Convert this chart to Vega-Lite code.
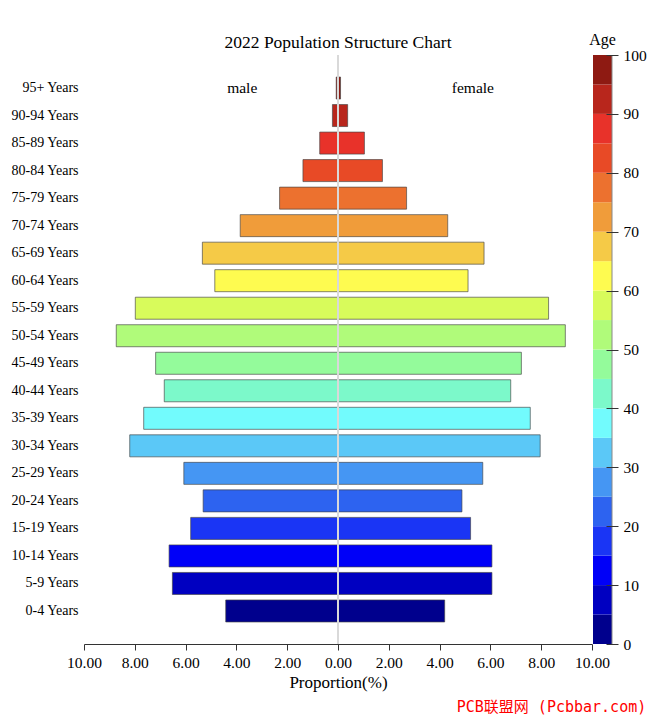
{
  "$schema": "https://vega.github.io/schema/vega-lite/v6.json",
  "padding": {"left": 10, "top": 32, "right": 4, "bottom": 4},
  "spacing": 1,
  "bounds": "flush",
  "config": {"view": {"stroke": null}, "font": "Liberation Serif"},
  "title": {"text": "PCB联盟网 (Pcbbar.com)", "orient": "bottom", "anchor": "end", "color": "#ff0000", "fontSize": 15, "font": "DejaVu Sans Mono, Noto Sans CJK SC", "fontWeight": "normal", "offset": 9},
  "datasets": {
    "pop": [
      {"group": "0-4 Years", "sex": "male", "value": -4.42},
      {"group": "5-9 Years", "sex": "male", "value": -6.52},
      {"group": "10-14 Years", "sex": "male", "value": -6.65},
      {"group": "15-19 Years", "sex": "male", "value": -5.80},
      {"group": "20-24 Years", "sex": "male", "value": -5.31},
      {"group": "25-29 Years", "sex": "male", "value": -6.07},
      {"group": "30-34 Years", "sex": "male", "value": -8.20},
      {"group": "35-39 Years", "sex": "male", "value": -7.65},
      {"group": "40-44 Years", "sex": "male", "value": -6.84},
      {"group": "45-49 Years", "sex": "male", "value": -7.18},
      {"group": "50-54 Years", "sex": "male", "value": -8.73},
      {"group": "55-59 Years", "sex": "male", "value": -7.98},
      {"group": "60-64 Years", "sex": "male", "value": -4.85},
      {"group": "65-69 Years", "sex": "male", "value": -5.34},
      {"group": "70-74 Years", "sex": "male", "value": -3.85},
      {"group": "75-79 Years", "sex": "male", "value": -2.30},
      {"group": "80-84 Years", "sex": "male", "value": -1.38},
      {"group": "85-89 Years", "sex": "male", "value": -0.72},
      {"group": "90-94 Years", "sex": "male", "value": -0.22},
      {"group": "95+ Years", "sex": "male", "value": -0.07},
      {"group": "0-4 Years", "sex": "female", "value": 4.20},
      {"group": "5-9 Years", "sex": "female", "value": 6.06},
      {"group": "10-14 Years", "sex": "female", "value": 6.06},
      {"group": "15-19 Years", "sex": "female", "value": 5.22},
      {"group": "20-24 Years", "sex": "female", "value": 4.88},
      {"group": "25-29 Years", "sex": "female", "value": 5.70},
      {"group": "30-34 Years", "sex": "female", "value": 7.96},
      {"group": "35-39 Years", "sex": "female", "value": 7.57},
      {"group": "40-44 Years", "sex": "female", "value": 6.80},
      {"group": "45-49 Years", "sex": "female", "value": 7.22},
      {"group": "50-54 Years", "sex": "female", "value": 8.95},
      {"group": "55-59 Years", "sex": "female", "value": 8.29},
      {"group": "60-64 Years", "sex": "female", "value": 5.12},
      {"group": "65-69 Years", "sex": "female", "value": 5.75},
      {"group": "70-74 Years", "sex": "female", "value": 4.32},
      {"group": "75-79 Years", "sex": "female", "value": 2.70},
      {"group": "80-84 Years", "sex": "female", "value": 1.75},
      {"group": "85-89 Years", "sex": "female", "value": 1.04},
      {"group": "90-94 Years", "sex": "female", "value": 0.38},
      {"group": "95+ Years", "sex": "female", "value": 0.10}
    ],
    "bands": [
      {"group": "0-4 Years", "lo": 0, "hi": 5},
      {"group": "5-9 Years", "lo": 5, "hi": 10},
      {"group": "10-14 Years", "lo": 10, "hi": 15},
      {"group": "15-19 Years", "lo": 15, "hi": 20},
      {"group": "20-24 Years", "lo": 20, "hi": 25},
      {"group": "25-29 Years", "lo": 25, "hi": 30},
      {"group": "30-34 Years", "lo": 30, "hi": 35},
      {"group": "35-39 Years", "lo": 35, "hi": 40},
      {"group": "40-44 Years", "lo": 40, "hi": 45},
      {"group": "45-49 Years", "lo": 45, "hi": 50},
      {"group": "50-54 Years", "lo": 50, "hi": 55},
      {"group": "55-59 Years", "lo": 55, "hi": 60},
      {"group": "60-64 Years", "lo": 60, "hi": 65},
      {"group": "65-69 Years", "lo": 65, "hi": 70},
      {"group": "70-74 Years", "lo": 70, "hi": 75},
      {"group": "75-79 Years", "lo": 75, "hi": 80},
      {"group": "80-84 Years", "lo": 80, "hi": 85},
      {"group": "85-89 Years", "lo": 85, "hi": 90},
      {"group": "90-94 Years", "lo": 90, "hi": 95},
      {"group": "95+ Years", "lo": 95, "hi": 100}
    ],
    "single": [{"one": 1}]
  },
  "hconcat": [
    {
      "width": 508,
      "height": 589,
      "title": {"text": "2022 Population Structure Chart", "fontSize": 17.5, "fontWeight": "normal", "anchor": "middle", "offset": 3, "color": "#000"},
      "layer": [
        {
          "data": {"name": "pop"},
          "mark": {"type": "bar", "stroke": "#444", "strokeOpacity": 0.65, "strokeWidth": 1},
          "encoding": {
            "y": {
              "field": "group", "type": "nominal",
              "sort": ["95+ Years", "90-94 Years", "85-89 Years", "80-84 Years", "75-79 Years", "70-74 Years", "65-69 Years", "60-64 Years", "55-59 Years", "50-54 Years", "45-49 Years", "40-44 Years", "35-39 Years", "30-34 Years", "25-29 Years", "20-24 Years", "15-19 Years", "10-14 Years", "5-9 Years", "0-4 Years"],
              "scale": {"paddingInner": 0.2, "paddingOuter": 0.8},
              "axis": {"title": null, "domain": false, "ticks": false, "labelFontSize": 14, "labelPadding": 6, "labelColor": "#000", "labelFont": "Liberation Serif"}
            },
            "x": {
              "field": "value", "type": "quantitative",
              "scale": {"domain": [-10, 10], "nice": false},
              "axis": {"values": [-10, -8, -6, -4, -2, 0, 2, 4, 6, 8, 10], "labelExpr": "format(abs(datum.value), '.2f')", "labelFlush": false, "labelOverlap": false, "grid": false, "title": "Proportion(%)", "titleFontSize": 17, "titleFontWeight": "normal", "titleColor": "#000", "titlePadding": 4, "labelFontSize": 15.5, "labelColor": "#000", "labelPadding": 5, "tickSize": 6, "domainColor": "#333", "tickColor": "#333", "labelFont": "Liberation Serif", "titleFont": "Liberation Serif"}
            },
            "color": {
              "field": "group", "type": "nominal",
              "scale": {
                "domain": ["0-4 Years", "5-9 Years", "10-14 Years", "15-19 Years", "20-24 Years", "25-29 Years", "30-34 Years", "35-39 Years", "40-44 Years", "45-49 Years", "50-54 Years", "55-59 Years", "60-64 Years", "65-69 Years", "70-74 Years", "75-79 Years", "80-84 Years", "85-89 Years", "90-94 Years", "95+ Years"],
                "range": ["#00008d", "#0000c1", "#0000f8", "#1a35f5", "#2d63f0", "#4596f3", "#5bc8f7", "#72fbfd", "#7cf9ca", "#94fb9b", "#b0fb7a", "#d8fb5b", "#fefb50", "#f5ca47", "#f09c3a", "#ec712f", "#e84a26", "#e8322a", "#b8261c", "#8e1a12"]
              },
              "legend": null
            }
          }
        },
        {
          "data": {"name": "single"},
          "mark": {"type": "rule", "color": "#d9d9d9", "strokeWidth": 2},
          "encoding": {"x": {"datum": 0}}
        },
        {
          "data": {"name": "single"},
          "mark": {"type": "text", "fontSize": 15.5, "font": "Liberation Serif", "fill": "#000"},
          "encoding": {"x": {"datum": -3.77}, "y": {"datum": "95+ Years"}, "text": {"value": "male"}}
        },
        {
          "data": {"name": "single"},
          "mark": {"type": "text", "fontSize": 15.5, "font": "Liberation Serif", "fill": "#000"},
          "encoding": {"x": {"datum": 5.31}, "y": {"datum": "95+ Years"}, "text": {"value": "female"}}
        }
      ]
    },
    {
      "width": 19,
      "height": 589,
      "title": {"text": "Age", "fontSize": 16, "fontWeight": "normal", "anchor": "middle", "offset": 0, "color": "#000"},
      "layer": [
        {
          "data": {"name": "bands"},
          "mark": {"type": "rect"},
          "encoding": {
            "x": {"datum": 0, "type": "quantitative", "scale": {"domain": [0, 1], "nice": false}, "axis": null},
            "x2": {"datum": 1},
            "y": {"field": "lo", "type": "quantitative", "scale": {"domain": [0, 100], "nice": false},
              "axis": {"orient": "right", "values": [0, 10, 20, 30, 40, 50, 60, 70, 80, 90, 100], "offset": -6, "tickSize": 12, "domain": false, "grid": false, "title": null, "labelFontSize": 15.5, "labelPadding": 5, "labelColor": "#000", "tickColor": "#333", "zindex": 1, "labelFont": "Liberation Serif"}},
            "y2": {"field": "hi"},
            "color": {"field": "group", "type": "nominal", "legend": null}
          }
        },
        {
          "data": {"name": "single"},
          "mark": {"type": "rule", "color": "#888", "strokeWidth": 1},
          "encoding": {"x": {"datum": 1}, "y": {"datum": 0}, "y2": {"datum": 100}}
        }
      ]
    }
  ],
  "resolve": {"scale": {"color": "shared"}}
}
